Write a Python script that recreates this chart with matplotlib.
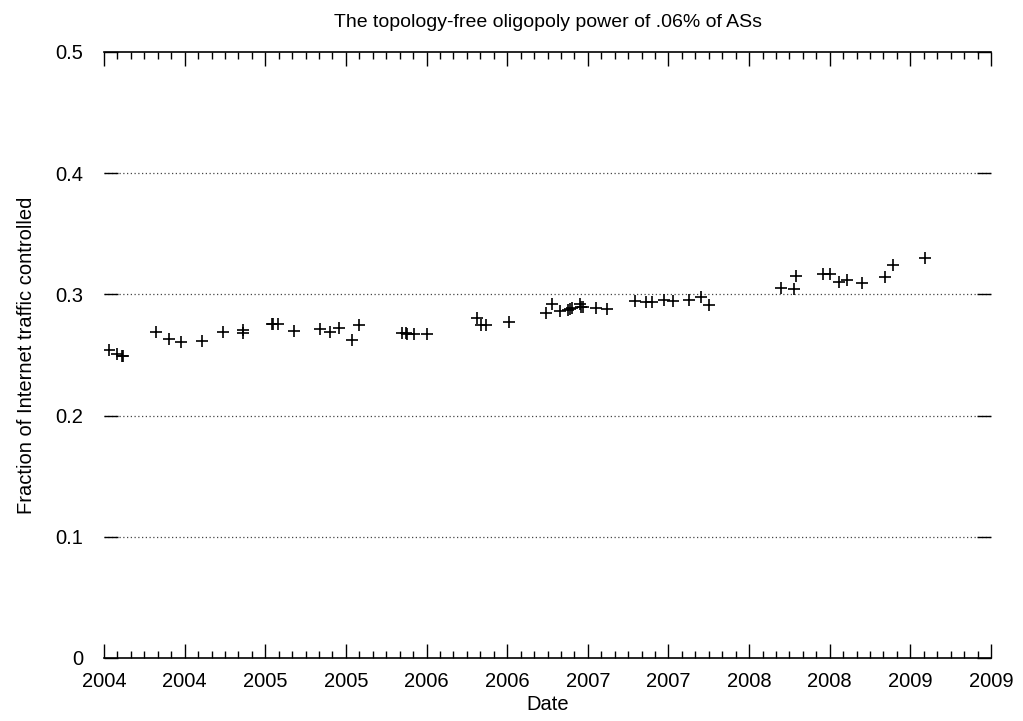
import matplotlib.pyplot as plt
import numpy as np
from matplotlib.ticker import MultipleLocator, FuncFormatter

plt.rcParams['font.family'] = ['Liberation Sans', 'DejaVu Sans']

# measurement dates (decimal years) and share of traffic controlled
dates = [2004.03, 2004.08, 2004.11, 2004.12,
         2004.32, 2004.40, 2004.48, 2004.61, 2004.74, 2004.86, 2004.86,
         2005.04, 2005.05, 2005.08, 2005.18, 2005.34, 2005.40, 2005.46,
         2005.54, 2005.58,
         2005.85, 2005.87, 2005.88, 2005.92, 2006.00,
         2006.31, 2006.34, 2006.37, 2006.51,
         2006.74, 2006.78, 2006.83, 2006.88, 2006.89, 2006.90,
         2006.95, 2006.96, 2006.97, 2007.05, 2007.12,
         2007.29, 2007.36, 2007.40, 2007.47, 2007.53, 2007.63, 2007.70, 2007.75,
         2008.20, 2008.28, 2008.29, 2008.46, 2008.50, 2008.56, 2008.61,
         2008.70, 2008.84, 2008.89, 2009.09]
fraction = [0.254, 0.251, 0.249, 0.249,
            0.269, 0.263, 0.261, 0.2615, 0.269, 0.271, 0.268,
            0.2756, 0.2752, 0.2752, 0.270, 0.2717, 0.269, 0.2723,
            0.2626, 0.2748,
            0.268, 0.268, 0.2675, 0.2672, 0.267,
            0.2803, 0.2748, 0.2748, 0.2776,
            0.2849, 0.292, 0.2859, 0.2871, 0.288, 0.2885,
            0.292, 0.2895, 0.290, 0.2885, 0.288,
            0.2948, 0.294, 0.294, 0.2954, 0.2948, 0.2954, 0.2975, 0.2909,
            0.3056, 0.3042, 0.3148, 0.3168, 0.3168, 0.3105, 0.3119,
            0.309, 0.3147, 0.3243, 0.3297]

fig = plt.figure(figsize=(10.23, 7.21), dpi=100)
ax = fig.add_axes([0.1017, 0.0874, 0.8670, 0.8405])

ax.plot(dates, fraction, linestyle="", marker="+", markersize=9,
        markeredgewidth=1.2, color="black")

ax.set_xlim(2004.0, 2009.5)
ax.set_ylim(0, 0.5)

ax.xaxis.set_major_locator(MultipleLocator(0.5))
ax.xaxis.set_minor_locator(MultipleLocator(1 / 12))
ax.xaxis.set_major_formatter(FuncFormatter(lambda x, pos: f"{int(np.floor(x + 1e-6))}"))
ax.yaxis.set_major_locator(MultipleLocator(0.1))
ax.yaxis.set_major_formatter(FuncFormatter(lambda y, pos: "0" if y == 0 else f"{y:.1f}"))

ax.tick_params(which="both", direction="in", top=True, right=True,
               labelsize=14.5, color="black")
ax.tick_params(axis="x", pad=10)
ax.tick_params(axis="y", pad=15)
ax.tick_params(which="major", length=10, width=1)
ax.tick_params(which="minor", length=5, width=1)

for y in [0.1, 0.2, 0.3, 0.4]:
    ax.axhline(y, color="#444444", linestyle=(0, (1, 2)), linewidth=0.9, zorder=0)

ax.spines["left"].set_visible(False)
ax.spines["right"].set_visible(False)
ax.spines["top"].set_linewidth(1.2)
ax.spines["bottom"].set_linewidth(1.2)

ax.set_title("The topology-free oligopoly power of .06% of ASs", fontsize=14, pad=18)
ax.set_xlabel("Date", fontsize=14.5, labelpad=3)
ax.set_ylabel("Fraction of Internet traffic controlled", fontsize=14.5, labelpad=14)

fig.savefig("out.png", dpi=100)
